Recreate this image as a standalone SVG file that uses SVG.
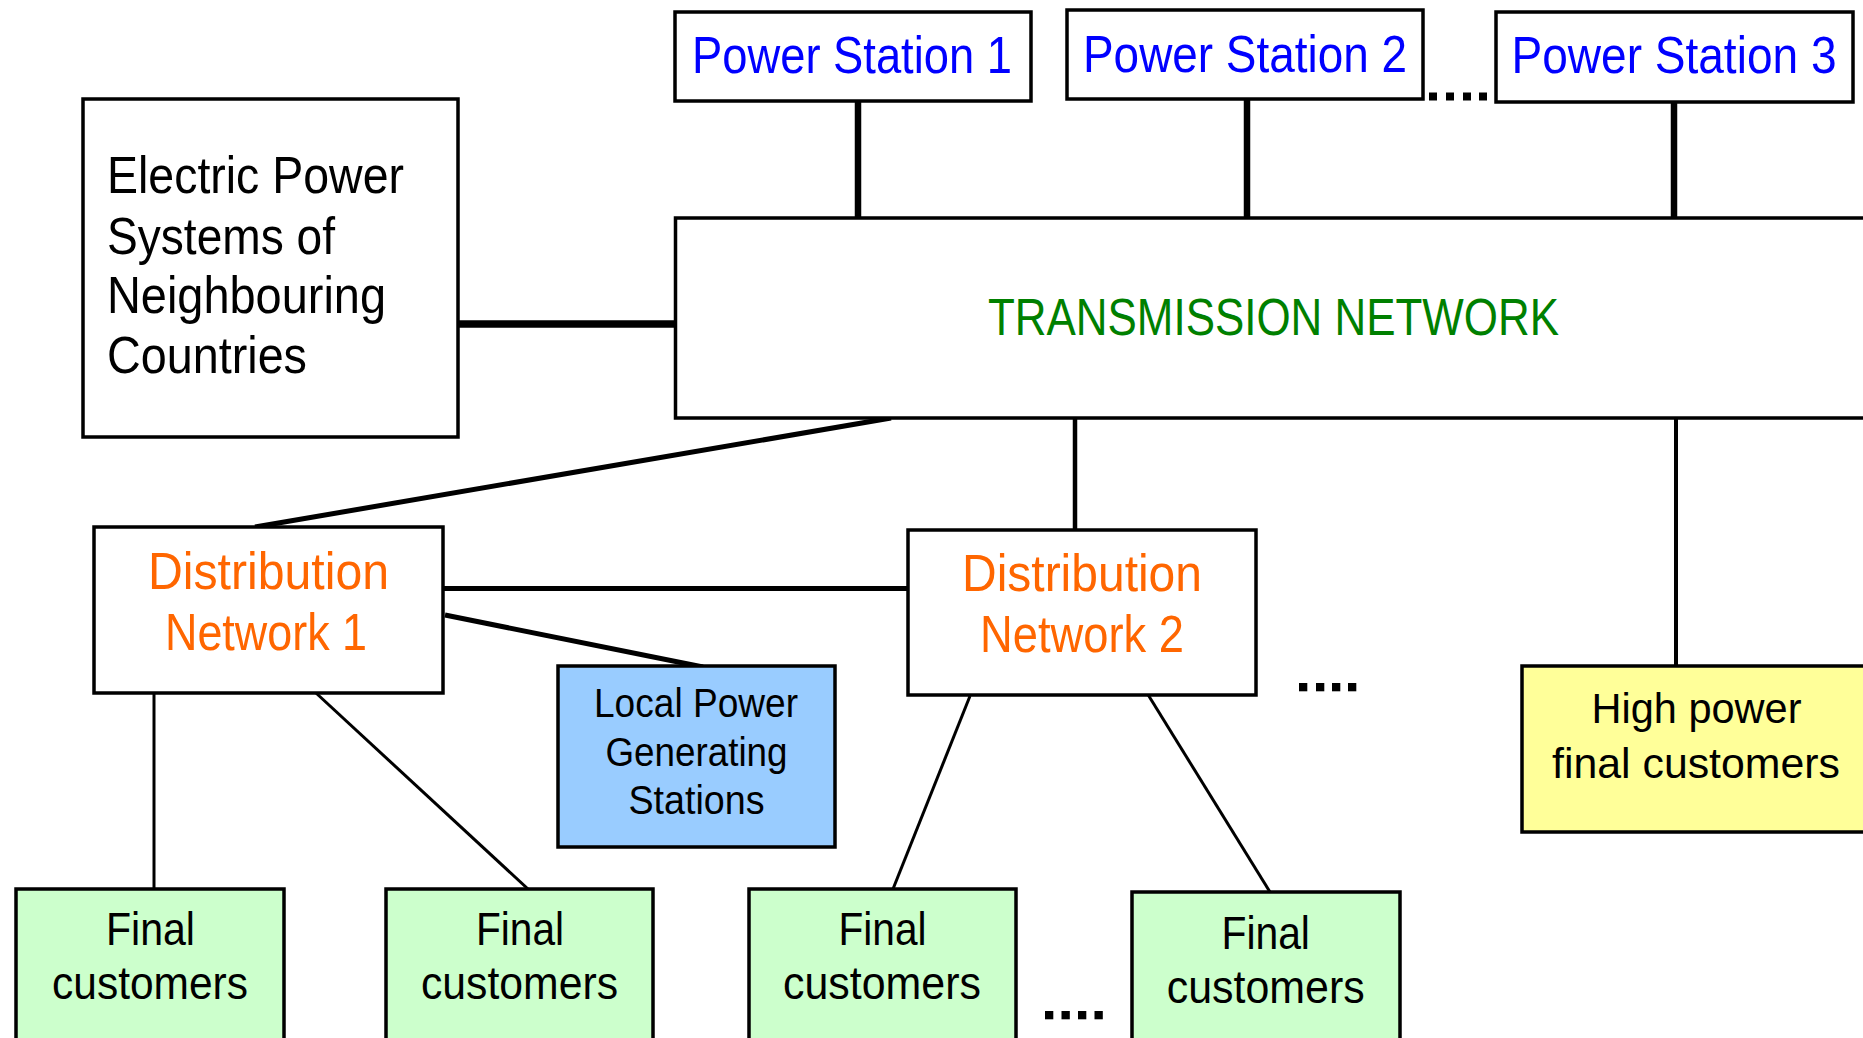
<svg xmlns="http://www.w3.org/2000/svg" width="1863" height="1038" viewBox="0 0 1863 1038">
<style>
.box{stroke:#000;stroke-width:3.5;fill:#fff}
.loc{fill:#99ccff}
.hp{fill:#ffff99}
.fc{fill:#ccffcc}
text{font-family:"Liberation Sans",Arial,sans-serif}
.ps{fill:#0000ff;font-size:52px;text-anchor:middle}
.tn{fill:#008000;font-size:52px;text-anchor:middle}
.dn{fill:#ff6600;font-size:52px;text-anchor:middle}
.el{fill:#000;font-size:52px}
.lp{fill:#000;font-size:40px;text-anchor:middle}
.hpt{fill:#000;font-size:42px;text-anchor:middle}
.fct{fill:#000;font-size:47px;text-anchor:middle}
.c{stroke:#000;fill:none}
.dot{fill:#000}
</style>
<g id="connectors">
<line class="c" x1="858" y1="101" x2="858" y2="218" stroke-width="6.5"/>
<line class="c" x1="1247" y1="99" x2="1247" y2="218" stroke-width="6.5"/>
<line class="c" x1="1674" y1="102" x2="1674" y2="218" stroke-width="6.5"/>
<line class="c" x1="458" y1="324" x2="675" y2="324" stroke-width="7.5"/>
<line class="c" x1="891" y1="418" x2="255" y2="527" stroke-width="5"/>
<line class="c" x1="1075" y1="418" x2="1075" y2="530" stroke-width="4.5"/>
<line class="c" x1="1676" y1="418" x2="1676" y2="666" stroke-width="4"/>
<line class="c" x1="443" y1="588.5" x2="908" y2="588.5" stroke-width="5"/>
<line class="c" x1="445" y1="615" x2="703" y2="667" stroke-width="5"/>
<line class="c" x1="154" y1="693" x2="154" y2="889" stroke-width="3"/>
<line class="c" x1="316" y1="693" x2="528" y2="889" stroke-width="3"/>
<line class="c" x1="970" y1="696" x2="893" y2="889" stroke-width="3"/>
<line class="c" x1="1147" y1="693" x2="1270" y2="892" stroke-width="3"/>
<g class="dot">
<rect x="1429" y="92.5" width="8" height="8"/><rect x="1446" y="92.5" width="8" height="8"/><rect x="1463" y="92.5" width="8" height="8"/><rect x="1479" y="92.5" width="8" height="8"/>
<rect x="1299" y="683" width="8.3" height="8.3"/><rect x="1316" y="683" width="8.3" height="8.3"/><rect x="1332" y="683" width="8.3" height="8.3"/><rect x="1348" y="683" width="8.3" height="8.3"/>
<rect x="1045" y="1011" width="8.3" height="8.3"/><rect x="1061.5" y="1011" width="8.3" height="8.3"/><rect x="1078" y="1011" width="8.3" height="8.3"/><rect x="1094.5" y="1011" width="8.3" height="8.3"/>
</g>
</g>
<g id="neighbours">
<rect class="box" x="83" y="99" width="375" height="338"/>
<text class="el" x="107" y="193" textLength="297" lengthAdjust="spacingAndGlyphs">Electric Power</text>
<text class="el" x="107" y="254" textLength="228" lengthAdjust="spacingAndGlyphs">Systems of</text>
<text class="el" x="107" y="313" textLength="279" lengthAdjust="spacingAndGlyphs">Neighbouring</text>
<text class="el" x="107" y="373" textLength="200" lengthAdjust="spacingAndGlyphs">Countries</text>
</g>
<g id="ps1">
<rect class="box" x="675" y="12" width="356" height="89"/>
<text class="ps" x="852" y="73" textLength="320" lengthAdjust="spacingAndGlyphs">Power Station 1</text>
</g>
<g id="ps2">
<rect class="box" x="1067" y="10" width="356" height="89"/>
<text class="ps" x="1245" y="71.5" textLength="324" lengthAdjust="spacingAndGlyphs">Power Station 2</text>
</g>
<g id="ps3">
<rect class="box" x="1496" y="12" width="357" height="90"/>
<text class="ps" x="1674" y="73" textLength="325" lengthAdjust="spacingAndGlyphs">Power Station 3</text>
</g>
<g id="transmission">
<rect class="box" x="675.5" y="218" width="1200" height="200"/>
<text class="tn" x="1273.5" y="335" textLength="571" lengthAdjust="spacingAndGlyphs">TRANSMISSION NETWORK</text>
</g>
<g id="dn1">
<rect class="box" x="94" y="527" width="349" height="166"/>
<text class="dn" x="268.5" y="588.5" textLength="241" lengthAdjust="spacingAndGlyphs">Distribution</text>
<text class="dn" x="266" y="650" textLength="202" lengthAdjust="spacingAndGlyphs">Network 1</text>
</g>
<g id="dn2">
<rect class="box" x="908" y="530" width="348" height="165"/>
<text class="dn" x="1082" y="591" textLength="240" lengthAdjust="spacingAndGlyphs">Distribution</text>
<text class="dn" x="1082" y="651.5" textLength="204" lengthAdjust="spacingAndGlyphs">Network 2</text>
</g>
<g id="local">
<rect class="box loc" x="558" y="666" width="277" height="181"/>
<text class="lp" x="696" y="717" textLength="204" lengthAdjust="spacingAndGlyphs">Local Power</text>
<text class="lp" x="696.5" y="766" textLength="182" lengthAdjust="spacingAndGlyphs">Generating</text>
<text class="lp" x="696.5" y="814" textLength="136" lengthAdjust="spacingAndGlyphs">Stations</text>
</g>
<g id="highpower">
<rect class="box hp" x="1522" y="666" width="360" height="166"/>
<text class="hpt" x="1696.5" y="723.3" textLength="210" lengthAdjust="spacingAndGlyphs">High power</text>
<text class="hpt" x="1696" y="777.7" textLength="288" lengthAdjust="spacingAndGlyphs">final customers</text>
</g>
<g id="final1">
<rect class="box fc" x="16" y="889" width="268" height="170"/>
<text class="fct" x="150.5" y="945.4" textLength="89" lengthAdjust="spacingAndGlyphs">Final</text>
<text class="fct" x="150" y="999.3" textLength="196" lengthAdjust="spacingAndGlyphs">customers</text>
</g>
<g id="final2">
<rect class="box fc" x="386" y="889" width="267" height="170"/>
<text class="fct" x="520" y="945.4" textLength="88" lengthAdjust="spacingAndGlyphs">Final</text>
<text class="fct" x="519.5" y="999.3" textLength="197" lengthAdjust="spacingAndGlyphs">customers</text>
</g>
<g id="final3">
<rect class="box fc" x="749" y="889" width="267" height="170"/>
<text class="fct" x="882.5" y="945.4" textLength="88" lengthAdjust="spacingAndGlyphs">Final</text>
<text class="fct" x="882" y="999.3" textLength="198" lengthAdjust="spacingAndGlyphs">customers</text>
</g>
<g id="final4">
<rect class="box fc" x="1132" y="892" width="268" height="170"/>
<text class="fct" x="1265.7" y="949" textLength="88.5" lengthAdjust="spacingAndGlyphs">Final</text>
<text class="fct" x="1265.7" y="1003" textLength="198" lengthAdjust="spacingAndGlyphs">customers</text>
</g>
</svg>
